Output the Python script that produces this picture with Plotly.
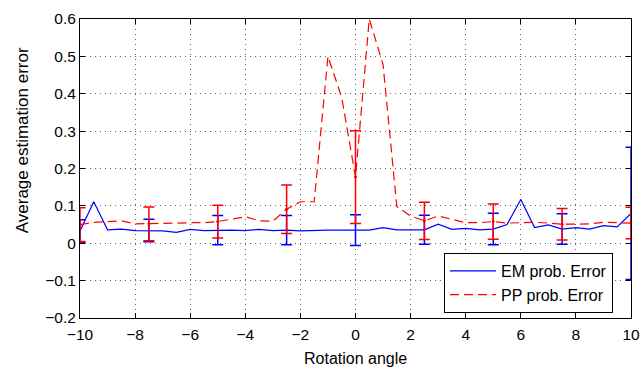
import plotly.graph_objects as go

angles = [-10, -9.5, -9, -8.5, -8, -7.5, -7, -6.5, -6, -5.5, -5, -4.5, -4, -3.5, -3,
          -2.5, -2, -1.5, -1, -0.5, 0, 0.5, 1, 1.5, 2, 2.5, 3, 3.5, 4, 4.5, 5,
          5.5, 6, 6.5, 7, 7.5, 8, 8.5, 9, 9.5, 10]

em_error = [0.033, 0.111, 0.036, 0.038, 0.034, 0.034, 0.033, 0.029, 0.037, 0.034, 0.035,
            0.035, 0.034, 0.037, 0.034, 0.035, 0.033, 0.035, 0.035, 0.035, 0.035,
            0.035, 0.042, 0.036, 0.036, 0.036, 0.051, 0.037, 0.040, 0.036, 0.038,
            0.050, 0.117, 0.042, 0.049, 0.038, 0.042, 0.038, 0.047, 0.044, 0.080]

pp_error = [0.050, 0.056, 0.058, 0.060, 0.052, 0.052, 0.053, 0.054, 0.055, 0.055, 0.058,
            0.065, 0.071, 0.060, 0.059, 0.091, 0.111, 0.111, 0.500, 0.390, 0.177,
            0.600, 0.478, 0.098, 0.073, 0.060, 0.073, 0.064, 0.055, 0.055, 0.058,
            0.054, 0.055, 0.056, 0.054, 0.051, 0.051, 0.052, 0.056, 0.056, 0.054]

# error bars every 2.5 degrees
bar_angles = [-10, -7.5, -5, -2.5, 0, 2.5, 5, 7.5, 10]
em_std = [0.030, 0.030, 0.039, 0.039, 0.041, 0.039, 0.042, 0.041, 0.177]
pp_std = [0.045, 0.045, 0.044, 0.065, 0.124, 0.050, 0.047, 0.042, 0.042]

em_bar_vals = [em_error[angles.index(a)] for a in bar_angles]
pp_bar_vals = [pp_error[angles.index(a)] for a in bar_angles]

BLUE = "#0000ff"
RED = "#ff0000"

fig = go.Figure()

fig.add_trace(go.Scatter(x=angles, y=em_error, mode="lines", name="EM prob. Error",
                         line=dict(color=BLUE, width=1.2)))
fig.add_trace(go.Scatter(x=angles, y=pp_error, mode="lines", name="PP prob. Error",
                         line=dict(color=RED, width=1.2, dash="9px,5px")))
fig.add_trace(go.Scatter(x=bar_angles, y=em_bar_vals, mode="markers", showlegend=False,
                         marker=dict(color=BLUE, size=1),
                         error_y=dict(type="data", array=em_std, color=BLUE,
                                      thickness=1.5, width=5.5)))
fig.add_trace(go.Scatter(x=bar_angles, y=pp_bar_vals, mode="markers", showlegend=False,
                         marker=dict(color=RED, size=3),
                         error_y=dict(type="data", array=pp_std, color=RED,
                                      thickness=1.5, width=5.5)))

axis_common = dict(
    showline=True, linecolor="black", linewidth=1, mirror="ticks",
    ticks="inside", ticklen=5, tickcolor="black", automargin=False,
    showgrid=True, gridcolor="#666666", griddash="1px,4px", gridwidth=1,
    zeroline=False,
    tickfont=dict(family="Liberation Sans, Arial", size=15.5, color="black"),
)

fig.update_xaxes(range=[-10, 10], tickvals=[-10, -8, -6, -4, -2, 0, 2, 4, 6, 8, 10],
                 ticktext=["\u221210", "\u22128", "\u22126", "\u22124", "\u22122", "0",
                           "2", "4", "6", "8", "10"], ticklabelstandoff=2, **axis_common)
fig.update_yaxes(range=[-0.2, 0.6], tickvals=[-0.2, -0.1, 0, 0.1, 0.2, 0.3, 0.4, 0.5, 0.6],
                 ticktext=["\u22120.2", "\u22120.1", "0", "0.1", "0.2", "0.3", "0.4", "0.5", "0.6"],
                 **axis_common)

fig.update_layout(
    width=644, height=369,
    margin=dict(l=80, r=13, t=19, b=51),
    paper_bgcolor="white", plot_bgcolor="white",
    font=dict(family="Liberation Sans, Arial", color="black"),
    legend=dict(x=0.6606, y=0.0167, xanchor="left", yanchor="bottom",
                bgcolor="white", bordercolor="black", borderwidth=1,
                font=dict(size=16), itemwidth=46, tracegroupgap=0),
    annotations=[
        dict(text="Rotation angle", xref="paper", yref="paper", x=0.5, y=-0.136,
             xanchor="center", yanchor="middle", showarrow=False,
             font=dict(size=16)),
        dict(text="Average estimation error", xref="paper", yref="paper",
             x=-0.105, y=0.595, xanchor="center", yanchor="middle",
             textangle=-90, showarrow=False, font=dict(size=17)),
    ],
)

fig.write_html("out.html")
